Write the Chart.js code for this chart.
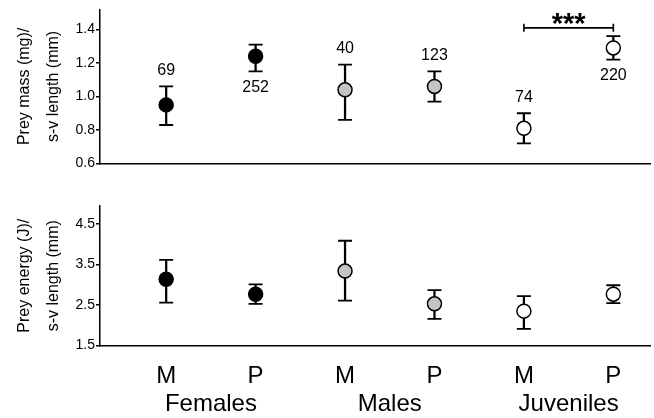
<!DOCTYPE html>
<html>
<head>
<meta charset="utf-8">
<script src="https://cdn.jsdelivr.net/npm/chart.js@4.4.1/dist/chart.umd.min.js"></script>
<style>
    html, body { margin: 0; padding: 0; background: #fff; }
    #wrap { position: relative; width: 654px; height: 418px; }
    canvas { position: absolute; left: 0; }
    #massChart { top: 0; }
    #energyChart { top: 180px; }
</style>
</head>
<body>
<div id="wrap">
    <canvas id="massChart" width="654" height="180"></canvas>
    <canvas id="energyChart" width="654" height="238"></canvas>
</div>
<script>
// Catégories
const groups = ["Females", "Males", "Juveniles"];
const foraging = ["M", "P", "M", "P", "M", "P"];
const sampleSizes = [69, 252, 40, 123, 74, 220];
const labelSide = ["above", "below", "above", "above", "above", "below"];

// Masse des proies / longueur s-v
const massMean = [0.95, 1.24, 1.04, 1.06, 0.81, 1.29];
const massLow = [0.83, 1.15, 0.86, 0.97, 0.72, 1.22];
const massHigh = [1.06, 1.31, 1.19, 1.15, 0.90, 1.36];
const massTicks = [0.6, 0.8, 1.0, 1.2, 1.4];

// Énergie des proies / longueur s-v
const energyMean = [3.14, 2.77, 3.34, 2.53, 2.35, 2.77];
const energyLow = [2.56, 2.53, 2.61, 2.16, 1.91, 2.55];
const energyHigh = [3.62, 3.01, 4.09, 2.87, 2.72, 2.99];
const energyTicks = [1.5, 2.5, 3.5, 4.5];

// Différence significative (Juveniles M vs P)
const sigPair = [4, 5];
const sigLevel = 1.41;
const sigText = "***";

const FONT = '"Liberation Sans", Arial, Helvetica, sans-serif';
const groupFill = ["#000000", "#c4c4c4", "#ffffff"];
const X_MIN = -0.74;
const X_MAX = 5.41;

Chart.defaults.font.family = FONT;
Chart.defaults.color = "#000";

/**
 * Annotations du panneau du haut : effectifs + barre de significativité
 */
const annotatePlugin = {
    id: "sampleSizes",
    afterDatasetsDraw(chart) {
        const { ctx, scales: { x, y } } = chart;
        ctx.save();
        ctx.fillStyle = "#000";
        ctx.strokeStyle = "#000";
        ctx.textAlign = "center";
        ctx.textBaseline = "middle";
        ctx.font = "16px " + FONT;
        sampleSizes.forEach((n, i) => {
            const px = x.getPixelForValue(i);
            const py = labelSide[i] === "above"
                ? y.getPixelForValue(massHigh[i]) - 16
                : y.getPixelForValue(massLow[i]) + 16;
            ctx.fillText(String(n), px, py);
        });

        const x0 = x.getPixelForValue(sigPair[0]);
        const x1 = x.getPixelForValue(sigPair[1]);
        const sy = y.getPixelForValue(sigLevel);
        ctx.lineWidth = 1.6;
        ctx.beginPath();
        ctx.moveTo(x0, sy); ctx.lineTo(x1, sy);
        ctx.moveTo(x0, sy - 4); ctx.lineTo(x0, sy + 4);
        ctx.moveTo(x1, sy - 4); ctx.lineTo(x1, sy + 4);
        ctx.stroke();
        ctx.font = "bold 29px " + FONT;
        ctx.textBaseline = "alphabetic";
        ctx.fillText(sigText, (x0 + x1) / 2, sy + 5);
        ctx.restore();
    },
};

function buildDatasets(mean, low, high) {
    return [
        {
            type: "scatter",
            data: mean.map((v, i) => ({ x: i, y: v })),
            pointRadius: 7,
            pointBackgroundColor: mean.map((_, i) => groupFill[Math.floor(i / 2)]),
            pointBorderColor: "#000",
            pointBorderWidth: 1.5,
            showLine: false,
            order: 0,
        },
        {
            type: "scatter",
            data: low.map((v, i) => ({ x: i, y: v })).concat(high.map((v, i) => ({ x: i, y: v }))),
            pointStyle: "line",
            pointRadius: 7,
            pointBorderColor: "#000",
            pointBorderWidth: 1.8,
            showLine: false,
            order: 1,
        },
        {
            type: "bar",
            data: low.map((v, i) => ({ x: i, y: [v, high[i]] })),
            backgroundColor: "#000",
            barThickness: 1.6,
            order: 2,
        },
    ];
}

function renderPanel(id, mean, low, high, yMin, yMax, ticks, title, isBottom) {
    const scales = {
        x: {
            type: "linear",
            min: X_MIN,
            max: X_MAX,
            offset: false,
            grid: { display: false, drawTicks: false, offset: false },
            border: { display: true, color: "#000", width: 1.6 },
            ticks: isBottom
                ? {
                    display: true,
                    autoSkip: false,
                    maxRotation: 0,
                    padding: 16.5,
                    font: { size: 24 },
                    color: "#000",
                    callback: (v, idx) => foraging[idx],
                }
                : { display: false },
            afterBuildTicks: (s) => { s.ticks = foraging.map((_, i) => ({ value: i })); },
            afterFit: (s) => { s.height = isBottom ? 44.5 : 0; },
        },
        y: {
            type: "linear",
            min: yMin,
            max: yMax,
            beginAtZero: false,
            afterBuildTicks: (s) => { s.ticks = ticks.map((v) => ({ value: v })); },
            afterFit: (s) => { s.width = 100; },
            ticks: {
                padding: 1,
                font: { size: 14 },
                color: "#000",
                callback: (v) => Number(v).toFixed(1),
            },
            grid: {
                display: true,
                drawOnChartArea: false,
                drawTicks: true,
                tickLength: 4,
                color: "#000",
                lineWidth: 1.5,
            },
            border: { display: true, color: "#000", width: 1.5 },
            title: {
                display: true,
                text: title,
                font: { size: 16, lineHeight: 1.8 },
                color: "#000",
                padding: { top: 10, bottom: 0 },
            },
        },
    };

    if (isBottom) {
        scales.x2 = {
            type: "linear",
            position: "bottom",
            min: X_MIN,
            max: X_MAX,
            offset: false,
            grid: { display: false, drawTicks: false },
            border: { display: false },
            afterBuildTicks: (s) => { s.ticks = groups.map((_, g) => ({ value: 2 * g + 0.5 })); },
            afterFit: (s) => { s.height = 28; },
            ticks: {
                autoSkip: false,
                maxRotation: 0,
                padding: 0,
                font: { size: 24 },
                color: "#000",
                callback: (v, idx) => groups[idx],
            },
        };
    }

    const ctx = document.getElementById(id).getContext("2d");
    return new Chart(ctx, {
        type: "scatter",
        data: { datasets: buildDatasets(mean, low, high) },
        options: {
            responsive: false,
            animation: false,
            events: [],
            layout: {
                autoPadding: false,
                padding: isBottom
                    ? { top: 26, right: 4, bottom: 0, left: 0 }
                    : { top: 8, right: 4, bottom: 16.5, left: 0 },
            },
            plugins: { legend: { display: false }, tooltip: { enabled: false } },
            scales,
        },
        plugins: isBottom ? [] : [annotatePlugin],
    });
}

renderPanel("massChart", massMean, massLow, massHigh, 0.6, 1.52, massTicks,
    ["Prey mass (mg)/", "s-v length (mm)"], false);
renderPanel("energyChart", energyMean, energyLow, energyHigh, 1.5, 4.95, energyTicks,
    ["Prey energy (J)/", "s-v length (mm)"], true);
</script>
</body>
</html>
